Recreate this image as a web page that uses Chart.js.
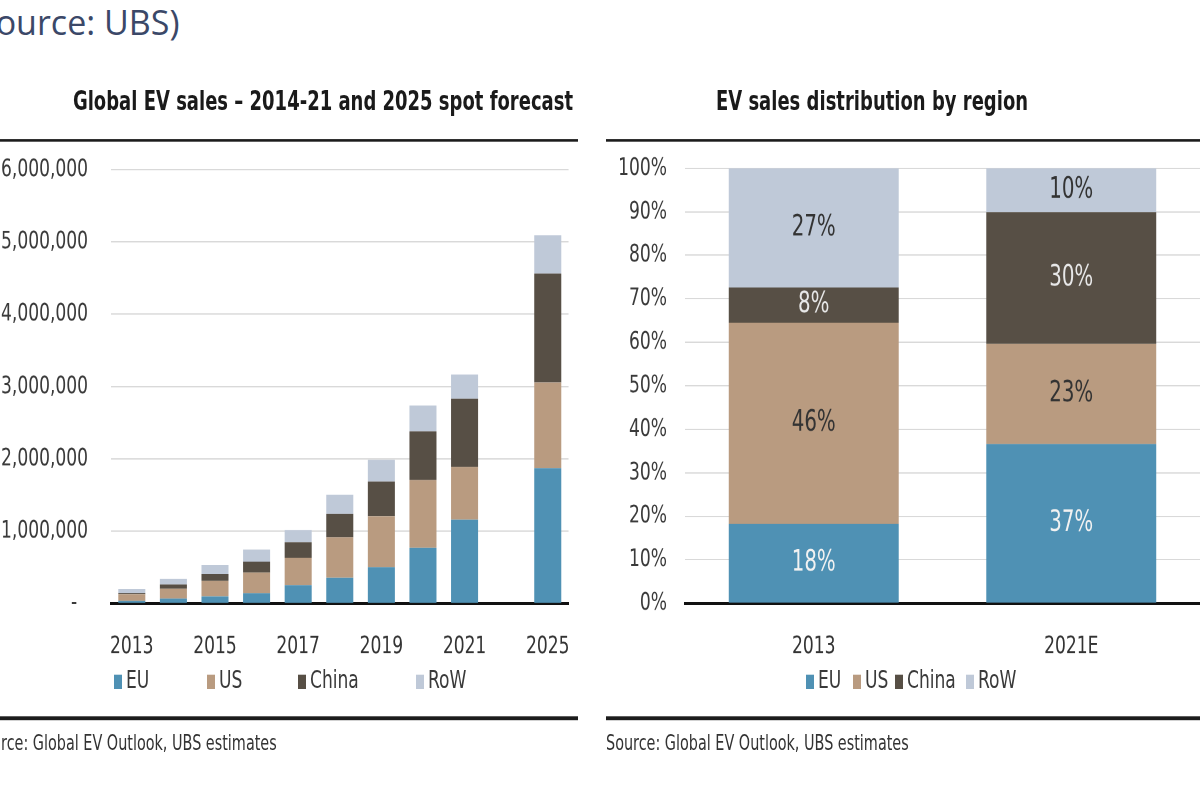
<!DOCTYPE html>
<html>
<head>
<meta charset="utf-8">
<title>Global EV sales</title>
<script src="https://cdn.jsdelivr.net/npm/chart.js@4.4.1/dist/chart.umd.min.js"></script>
<style>
  html, body { margin: 0; padding: 0; background: #fff; width: 1200px; height: 800px; overflow: hidden; }
  #page-head { position: absolute; left: -33px; top: 0; font-family: "Open Sans", sans-serif; font-size: 34px; line-height: 44px; color: #3b4868; white-space: nowrap; }
  /* the reference is drawn with tall, narrow lettering: stretch the chart area vertically */
  #stage { position: absolute; left: 0; top: 0; width: 1200px; height: 616px; transform: scaleY(1.3); transform-origin: 0 0;
           font-family: "DejaVu Sans Condensed", "DejaVu Sans", sans-serif; }
  .title { position: absolute; top: 66px; width: 600px; text-align: center; font-weight: bold; font-size: 20px; line-height: 24px; color: #1a1a1a; white-space: nowrap; }
  .rule { position: absolute; height: 2.5px; background: #1c1c1c; }
  .chart-box { position: absolute; }
  .legend { position: absolute; top: 512px; height: 20px; font-size: 19px; line-height: 20px; color: #3a3a3a; }
  .legend .item { position: absolute; top: 0; white-space: nowrap; }
  .legend i { display: inline-block; width: 8px; height: 11px; margin-right: 4px; vertical-align: -1px; }
  .source { position: absolute; top: 563px; font-size: 16px; line-height: 18px; color: #333; white-space: nowrap; }
</style>
</head>
<body>
<div id="page-head">(Source: UBS)</div>
<div id="stage">
  <div class="title" style="left:23px">Global EV sales – 2014-21 and 2025 spot forecast</div>
  <div class="title" style="left:572px">EV sales distribution by region</div>
  <div class="rule" style="left:0; width:578px; top:106.5px"></div>
  <div class="rule" style="left:606px; width:594px; top:106.5px"></div>

  <div class="chart-box" style="left:0; width:584px; top:95.7px; height:424.3px"><canvas id="salesChart"></canvas></div>
  <div class="chart-box" style="left:600px; width:600px; top:100.4px; height:419.6px"><canvas id="shareChart"></canvas></div>

  <div class="legend" id="salesLegend" style="left:0; width:580px"></div>
  <div class="legend" id="shareLegend" style="left:600px; width:600px"></div>

  <div class="rule" style="left:0; width:578px; top:551px"></div>
  <div class="rule" style="left:606px; width:594px; top:551px"></div>
  <div class="source" style="left:-26px">Source: Global EV Outlook, UBS estimates</div>
  <div class="source" style="left:606px">Source: Global EV Outlook, UBS estimates</div>
</div>

<script>
// Global EV sales (units), 2013-2021 plus 2025 forecast; '' keeps the gap before 2025
const years = ['2013', '2014', '2015', '2016', '2017', '2018', '2019', '2020', '2021', '', '2025'];
const salesEU    = [37000, 70000, 100000, 145000, 255000, 359000, 505000, 772000, 1161000, null, 1872000];
const salesUS    = [93000, 135000, 212000, 285000, 380000, 559000, 701000, 935000, 729000, null, 1183000];
const salesChina = [16000, 59000, 98000, 150000, 213000, 321000, 482000, 674000, 940000, null, 1508000];
const salesRoW   = [56000, 76000, 125000, 167000, 170000, 266000, 298000, 358000, 335000, null, 527000];

// Share of EV sales by region (%)
const shareYears = ['2013', '2021E'];
const shareEU    = [18.3, 36.6];
const shareUS    = [46.2, 23.0];
const shareChina = [8.1, 30.3];
const shareRoW   = [27.4, 10.1];

const regions = ['EU', 'US', 'China', 'RoW'];
const regionColors = ['#4f91b4', '#b99b80', '#574f45', '#bfc9d8'];
const shareLabelColors = ['#f2f2f2', '#333333', '#e8e8e8', '#333333'];

Chart.defaults.font.family = '"DejaVu Sans Condensed", "DejaVu Sans", sans-serif';
Chart.defaults.font.size = 19;
Chart.defaults.color = '#3a3a3a';

const makeDatasets = (series) => series.map((data, i) => ({
    label: regions[i],
    data: data,
    backgroundColor: regionColors[i],
    borderWidth: 0,
    barPercentage: 0.65,
    categoryPercentage: 1
}));

const baseOptions = (yAxisWidth, rightPad) => ({
    responsive: true,
    maintainAspectRatio: false,
    animation: false,
    devicePixelRatio: 2,
    layout: { padding: { top: 14, right: rightPad, left: 0, bottom: 0 } },
    plugins: { legend: { display: false }, tooltip: { enabled: false } },
    scales: {
        x: {
            stacked: true,
            grid: { display: false },
            border: { color: '#111111', width: 2.5 },
            ticks: { padding: 14, autoSkip: false, maxRotation: 0, color: '#333333' },
            afterFit: (scale) => { scale.height = 56; }
        },
        y: {
            stacked: true,
            beginAtZero: true,
            grid: { color: '#d9d9d9', drawTicks: false },
            border: { display: false },
            ticks: { padding: 23, color: '#3a3a3a' },
            afterFit: (scale) => { scale.width = yAxisWidth; }
        }
    }
});

// Sales Chart
const salesOptions = baseOptions(111, 11);
salesOptions.scales.x.ticks.callback = function(value, index) {
    return index % 2 === 0 ? this.getLabelForValue(value) : '';
};
salesOptions.scales.y.max = 6000000;
salesOptions.scales.y.ticks.stepSize = 1000000;
salesOptions.scales.y.ticks.callback = (value) => value === 0 ? '-  ' : value.toLocaleString('en-US');

new Chart(document.getElementById('salesChart'), {
    type: 'bar',
    data: { labels: years, datasets: makeDatasets([salesEU, salesUS, salesChina, salesRoW]) },
    options: salesOptions
});

// Share Chart, with percentage labels inside each segment
const segmentLabels = {
    id: 'segmentLabels',
    afterDatasetsDraw(chart) {
        const ctx = chart.ctx;
        ctx.save();
        ctx.font = '22px "DejaVu Sans Condensed", "DejaVu Sans", sans-serif';
        ctx.textAlign = 'center';
        ctx.textBaseline = 'middle';
        chart.data.datasets.forEach((ds, i) => {
            chart.getDatasetMeta(i).data.forEach((bar, j) => {
                const p = bar.getProps(['x', 'y', 'base'], true);
                ctx.fillStyle = shareLabelColors[i];
                ctx.fillText(Math.round(ds.data[j]) + '%', p.x, (p.y + p.base) / 2);
            });
        });
        ctx.restore();
    }
};

const shareOptions = baseOptions(85, 0);
shareOptions.scales.y.max = 100;
shareOptions.scales.y.ticks.stepSize = 10;
shareOptions.scales.y.ticks.padding = 18;
shareOptions.scales.y.ticks.callback = (value) => value + '%';

const shareSets = makeDatasets([shareEU, shareUS, shareChina, shareRoW]);
shareSets.forEach(ds => { ds.barPercentage = 0.66; });

new Chart(document.getElementById('shareChart'), {
    type: 'bar',
    data: { labels: shareYears, datasets: shareSets },
    options: shareOptions,
    plugins: [segmentLabels]
});

// Legends (Excel-style small squares)
const buildLegend = (id, lefts) => {
    const box = document.getElementById(id);
    regions.forEach((name, i) => {
        const item = document.createElement('span');
        item.className = 'item';
        item.style.left = lefts[i] + 'px';
        item.innerHTML = '<i style="background:' + regionColors[i] + '"></i>' + name;
        box.appendChild(item);
    });
};
buildLegend('salesLegend', [114, 207, 298, 416]);
buildLegend('shareLegend', [206, 253, 295, 366]);
</script>
</body>
</html>
